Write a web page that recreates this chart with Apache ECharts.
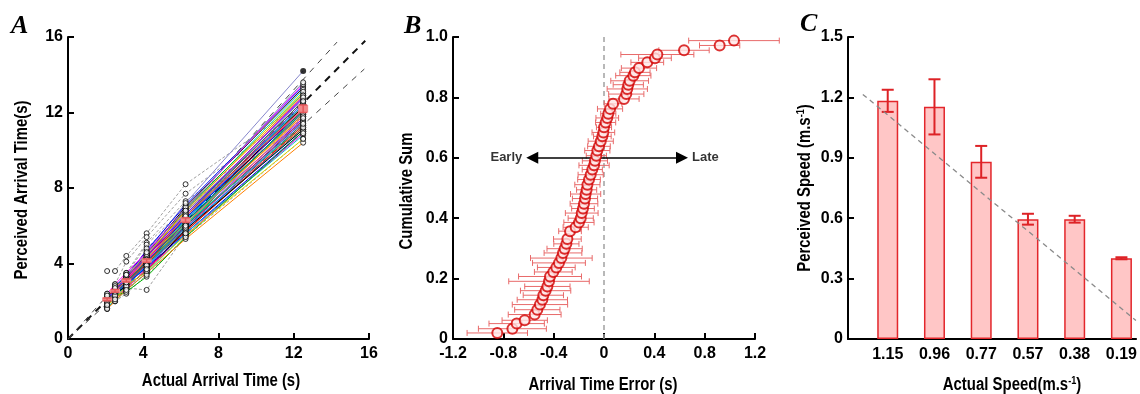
<!DOCTYPE html>
<html><head><meta charset="utf-8">
<script src="https://cdn.jsdelivr.net/npm/echarts@6/dist/echarts.min.js"></script>
<style>html,body{margin:0;padding:0;background:#fff}#c{width:1140px;height:394px}</style>
</head><body><div id="c"></div>
<script>
// ---------- Panel A data ----------
const actualTimes = [2.08, 2.5, 3.1, 4.18, 6.25, 12.5];
// coloured participant lines (perceived arrival time at each actual time)
const partA01 = [2.3, 2.7, 3.4, 4.6, 7.2, 14.2];
const colouredParticipants = [
  [2.2, 2.8, 3.3, 4.7, 7.1, 13.4],
  [2.1, 2.6, 3.2, 4.5, 7.0, 13.3],
  [2.4, 2.9, 3.5, 4.6, 6.9, 13.5],
  [2.0, 2.5, 3.1, 4.4, 6.8, 13.2],
  [2.2, 2.6, 3.2, 4.3, 6.9, 13.0],
  [2.1, 2.7, 3.3, 4.5, 6.7, 13.1],
  [2.3, 2.6, 3.2, 4.4, 6.8, 12.9],
  [1.9, 2.5, 3.0, 4.2, 6.6, 12.8],
  [2.2, 2.4, 3.1, 4.3, 6.7, 12.7],
  [2.0, 2.6, 3.2, 4.2, 6.5, 12.9],
  [2.1, 2.5, 3.0, 4.1, 6.6, 12.6],
  [2.2, 2.7, 3.1, 4.4, 6.4, 12.5],
  [1.8, 2.4, 3.0, 4.2, 6.5, 12.6],
  [2.0, 2.5, 3.1, 4.0, 6.4, 12.4],
  [2.1, 2.6, 3.2, 4.3, 6.3, 12.5],
  [2.3, 2.5, 3.0, 4.1, 6.5, 12.3],
  [1.9, 2.4, 2.9, 4.0, 6.3, 12.4],
  [2.0, 2.6, 3.1, 4.2, 6.2, 12.2],
  [2.2, 2.5, 3.0, 4.1, 6.4, 12.1],
  [1.7, 2.3, 2.9, 3.9, 6.2, 12.3],
  [2.1, 2.5, 3.2, 4.2, 6.1, 12.0],
  [2.0, 2.4, 3.0, 4.0, 6.3, 11.9],
  [1.9, 2.6, 3.1, 4.1, 6.0, 12.1],
  [2.2, 2.4, 2.9, 4.3, 6.2, 11.8],
  [1.8, 2.3, 3.0, 4.0, 6.1, 11.9],
  [2.0, 2.5, 3.1, 3.9, 6.0, 11.7],
  [2.1, 2.4, 2.8, 4.1, 6.2, 11.6],
  [1.9, 2.2, 3.0, 4.0, 5.9, 11.8],
  [2.0, 2.5, 2.9, 3.8, 6.0, 11.5],
  [1.7, 2.3, 3.0, 4.1, 5.9, 11.6],
  [2.1, 2.4, 3.1, 4.0, 5.8, 11.4],
  [1.8, 2.2, 2.8, 3.9, 6.1, 11.3],
  [2.0, 2.4, 3.0, 3.8, 5.8, 11.5],
  [1.9, 2.3, 2.9, 4.0, 5.7, 11.2],
  [2.2, 2.5, 2.8, 3.9, 5.9, 11.1],
  [1.6, 2.1, 2.7, 3.7, 5.7, 11.3],
  [2.0, 2.3, 2.9, 3.8, 5.6, 11.0],
  [1.8, 2.4, 2.8, 3.6, 5.8, 11.1],
  [1.9, 2.2, 2.7, 3.7, 5.5, 10.9],
  [1.7, 2.0, 2.6, 3.5, 5.6, 10.8],
  [2.0, 2.3, 2.5, 3.3, 5.4, 11.0],
  [1.8, 2.1, 2.8, 3.6, 5.5, 10.6],
  [1.6, 2.0, 2.6, 3.5, 5.3, 10.4],
  [2.1, 2.6, 3.3, 4.4, 6.6, 12.8],
  [2.3, 2.8, 3.4, 4.5, 6.9, 13.6],
  [1.9, 2.5, 3.1, 4.2, 6.5, 12.2],
  [2.0, 2.4, 3.0, 4.1, 6.2, 12.0]
];
// grey dashed participant lines
const greyParticipants = [
  [3.6, 3.6, 4.4, 5.6, 8.2, 12.6],
  [2.2, 2.9, 4.1, 5.4, 7.7, 12.3],
  [2.0, 2.6, 3.5, 5.1, 7.3, 11.8],
  [2.4, 2.8, 3.4, 5.0, 7.0, 11.5],
  [1.7, 2.3, 2.7, 2.6, 5.5, 11.0],
  [1.6, 2.0, 2.4, 3.4, 5.4, 10.6],
  [1.9, 2.2, 2.5, 3.6, 5.6, 10.9],
  [2.0, 2.3, 2.8, 3.9, 5.9, 11.2],
  [1.8, 2.1, 2.6, 3.7, 6.0, 11.4],
  [2.1, 2.5, 3.0, 4.8, 6.8, 11.7]
];
const meanA = [2.1, 2.55, 3.1, 4.15, 6.3, 12.2];
const semA = [0.07, 0.07, 0.08, 0.09, 0.12, 0.2];
// reference lines: y = x, y = 1.1x, y = 0.9x
const identityLine = [[0, 0], [15.8, 15.8]];
const upperLine = [[0, 0], [14.3, 15.73]];
const lowerLine = [[0, 0], [15.75, 14.3]];

// ---------- Panel B data ----------
const errorMean = [-0.848,-0.728,-0.694,-0.630,-0.551,-0.530,-0.509,-0.490,-0.482,-0.464,-0.450,-0.437,-0.429,-0.403,-0.379,-0.358,-0.339,-0.326,-0.313,-0.299,-0.291,-0.270,-0.225,-0.199,-0.185,-0.177,-0.167,-0.159,-0.151,-0.146,-0.138,-0.132,-0.119,-0.106,-0.093,-0.079,-0.072,-0.061,-0.053,-0.040,-0.026,-0.013,-0.005,0.000,0.013,0.026,0.034,0.048,0.072,0.159,0.177,0.185,0.193,0.204,0.233,0.246,0.278,0.344,0.405,0.424,0.636,0.919,1.033];
const cumSum = [0.020,0.034,0.051,0.062,0.081,0.097,0.114,0.130,0.145,0.160,0.174,0.191,0.207,0.222,0.237,0.252,0.268,0.285,0.299,0.315,0.331,0.357,0.370,0.386,0.400,0.417,0.432,0.448,0.465,0.480,0.494,0.511,0.528,0.544,0.561,0.575,0.590,0.607,0.624,0.638,0.655,0.671,0.684,0.701,0.717,0.732,0.746,0.762,0.779,0.795,0.811,0.828,0.842,0.855,0.872,0.883,0.897,0.916,0.930,0.942,0.956,0.972,0.988];
const errorHalf = [0.24,0.27,0.22,0.18,0.21,0.18,0.22,0.20,0.16,0.20,0.18,0.32,0.25,0.15,0.15,0.21,0.245,0.15,0.14,0.10,0.11,0.09,0.10,0.12,0.10,0.13,0.09,0.11,0.10,0.12,0.08,0.10,0.09,0.10,0.08,0.12,0.10,0.08,0.10,0.09,0.10,0.07,0.09,0.06,0.08,0.09,0.06,0.10,0.07,0.12,0.14,0.16,0.12,0.15,0.14,0.12,0.14,0.13,0.13,0.29,0.20,0.16,0.36];
const arrowSpan = [-0.57, 0.62];
const arrowLevel = 0.6;
const arrowTexts = ['Early', 'Late'];

// ---------- Panel C data ----------
const speedLabels = ['1.15', '0.96', '0.77', '0.57', '0.38', '0.19'];
const speedPos = [1, 2, 3, 4, 5, 6];
const perceivedSpeed = [1.183, 1.153, 0.880, 0.595, 0.595, 0.401];
const perceivedErr = [0.055, 0.137, 0.079, 0.027, 0.017, 0.005];
const fitLine = [[0.467, 1.215], [6.31, 0.092]];

// ---------- axis titles ----------
const titlesText = {
  ax: 'Actual Arrival Time (s)', ay: 'Perceived Arrival Time(s)',
  bx: 'Arrival Time Error (s)', by: 'Cumulative Sum',
  cx: 'Actual Speed(m.s{sup|-1})', cy: 'Perceived Speed (m.s{sup|-1})'
};

// ---------- styling ----------
const SANS = '"Liberation Sans", Arial, Helvetica, sans-serif';
const TICKFONT = {fontFamily: SANS, fontWeight: 'bold', fontSize: 16, color: '#000'};
const palette = ['#ff0000','#0000ff','#000000','#ff00ff','#00c8c8','#00b000','#d8d800','#ff8000','#8000ff','#8080c0','#ff5080','#008080','#c00060','#505050','#00e080','#5060ff','#a05000','#00a0ff'];

function axisBase(extra) {
  return Object.assign({
    axisLine: {show: true, onZero: false, lineStyle: {color: '#000', width: 2}},
    axisTick: {show: true, inside: true, length: 6, lineStyle: {color: '#000', width: 2}},
    splitLine: {show: false}
  }, extra);
}
const oneDec = v => (Math.abs(v) < 1e-9 ? '0' : v.toFixed(1));

const series = [];
// Panel A reference lines
series.push({type: 'line', xAxisIndex: 0, yAxisIndex: 0, data: identityLine, symbol: 'none', silent: true, z: 1,
  lineStyle: {color: '#111', width: 2, type: [7, 6]}});
series.push({type: 'line', xAxisIndex: 0, yAxisIndex: 0, data: upperLine, symbol: 'none', silent: true, z: 1,
  lineStyle: {color: '#444', width: 1, type: [6, 6]}});
series.push({type: 'line', xAxisIndex: 0, yAxisIndex: 0, data: lowerLine, symbol: 'none', silent: true, z: 1,
  lineStyle: {color: '#444', width: 1, type: [6, 6]}});
greyParticipants.forEach(p => series.push({type: 'line', xAxisIndex: 0, yAxisIndex: 0, symbol: 'none', silent: true, z: 2,
  data: actualTimes.map((x, i) => [x, p[i]]), lineStyle: {color: '#a0a0a0', width: 1, type: [3, 2]}}));
const allColoured = [partA01].concat(colouredParticipants);
allColoured.forEach((p, k) => series.push({type: 'line', xAxisIndex: 0, yAxisIndex: 0, symbol: 'none', silent: true, z: 3,
  data: actualTimes.map((x, i) => [x, p[i]]), lineStyle: {color: k === 0 ? '#8888cc' : palette[k % palette.length], width: 1}}));
const ptsA = [];
allColoured.slice(1).concat(greyParticipants).forEach(p => actualTimes.forEach((x, i) => ptsA.push([x, p[i]])));
partA01.slice(0, 5).forEach((v, i) => ptsA.push([actualTimes[i], v]));
series.push({type: 'scatter', xAxisIndex: 0, yAxisIndex: 0, data: ptsA, symbol: 'circle', symbolSize: 5, silent: true, z: 5,
  itemStyle: {color: '#fff', borderColor: '#000', borderWidth: 1}});
series.push({type: 'scatter', xAxisIndex: 0, yAxisIndex: 0, data: [[actualTimes[5], partA01[5]]], symbol: 'circle', symbolSize: 6, silent: true, z: 6,
  itemStyle: {color: '#000'}});
// mean +- error (vertical)
series.push({type: 'custom', xAxisIndex: 0, yAxisIndex: 0, z: 7, silent: true,
  data: actualTimes.map((x, i) => [x, meanA[i], semA[i]]),
  renderItem: function (params, api) {
    const x = api.value(0), y = api.value(1), e = api.value(2);
    const t = api.coord([x, y + e]), b = api.coord([x, y - e]), m = api.coord([x, y]);
    const st = {stroke: '#e5575a', lineWidth: 1.5};
    const h = Math.max(b[1] - t[1], 4);
    return {type: 'group', children: [
      {type: 'rect', shape: {x: m[0] - 5, y: m[1] - h / 2, width: 10, height: h}, style: {fill: '#f28a8a'}},
      {type: 'line', shape: {x1: t[0], y1: t[1], x2: b[0], y2: b[1]}, style: st},
      {type: 'line', shape: {x1: t[0] - 4, y1: t[1], x2: t[0] + 4, y2: t[1]}, style: st},
      {type: 'line', shape: {x1: b[0] - 4, y1: b[1], x2: b[0] + 4, y2: b[1]}, style: st}
    ]};
  }});

// Panel B
series.push({type: 'line', xAxisIndex: 1, yAxisIndex: 1, data: [[0, 0], [0, 1]], symbol: 'none', silent: true, z: 1,
  lineStyle: {color: '#a0a0a0', width: 1.5, type: [5, 4]}});
series.push({type: 'custom', xAxisIndex: 1, yAxisIndex: 1, z: 3, silent: true, clip: false,
  data: errorMean.map((x, i) => [x, cumSum[i], errorHalf[i]]),
  renderItem: function (params, api) {
    const x = api.value(0), y = api.value(1), e = api.value(2);
    const l = api.coord([x - e, y]), r = api.coord([x + e, y]);
    const st = {stroke: '#e86a6a', lineWidth: 1};
    return {type: 'group', children: [
      {type: 'line', shape: {x1: l[0], y1: l[1], x2: r[0], y2: r[1]}, style: st},
      {type: 'line', shape: {x1: l[0], y1: l[1] - 3, x2: l[0], y2: l[1] + 3}, style: st},
      {type: 'line', shape: {x1: r[0], y1: r[1] - 3, x2: r[0], y2: r[1] + 3}, style: st}
    ]};
  }});
series.push({type: 'scatter', xAxisIndex: 1, yAxisIndex: 1, z: 5, silent: true, symbol: 'circle', symbolSize: 10,
  data: errorMean.map((x, i) => [x, cumSum[i]]),
  itemStyle: {color: '#ffe6e6', borderColor: '#d20000', borderWidth: 2}});
series.push({type: 'line', xAxisIndex: 1, yAxisIndex: 1, data: [], z: 4, silent: true,
  markLine: {silent: true, symbol: ['triangle', 'triangle'], symbolSize: 12, animation: false,
    lineStyle: {color: '#000', width: 1.5, type: 'solid'}, label: {show: false},
    data: [[{coord: [arrowSpan[0], arrowLevel]}, {coord: [arrowSpan[1], arrowLevel]}]]}});
series.push({type: 'scatter', xAxisIndex: 1, yAxisIndex: 1, z: 4, silent: true, symbolSize: 0,
  data: [
    {value: [arrowSpan[0], arrowLevel], name: arrowTexts[0], label: {position: 'left'}},
    {value: [arrowSpan[1], arrowLevel], name: arrowTexts[1], label: {position: 'right'}}
  ],
  label: {show: true, formatter: p => p.name, fontFamily: SANS, fontWeight: 'bold', fontSize: 13, color: '#000', distance: 10}});

// Panel C
series.push({type: 'bar', xAxisIndex: 2, yAxisIndex: 2, z: 2, silent: true, barWidth: 21,
  data: speedPos.map((x, i) => [x, perceivedSpeed[i]]),
  itemStyle: {color: '#ffc6c6', borderColor: '#e3262b', borderWidth: 1.5}});
series.push({type: 'custom', xAxisIndex: 2, yAxisIndex: 2, z: 4, silent: true,
  data: speedPos.map((x, i) => [x, perceivedSpeed[i], perceivedErr[i]]),
  renderItem: function (params, api) {
    const x = api.value(0), y = api.value(1), e = api.value(2);
    const t = api.coord([x, y + e]), b = api.coord([x, y - e]);
    const st = {stroke: '#dd2226', lineWidth: 2};
    return {type: 'group', children: [
      {type: 'line', shape: {x1: t[0], y1: t[1], x2: b[0], y2: b[1]}, style: st},
      {type: 'line', shape: {x1: t[0] - 6, y1: t[1], x2: t[0] + 6, y2: t[1]}, style: st},
      {type: 'line', shape: {x1: b[0] - 6, y1: b[1], x2: b[0] + 6, y2: b[1]}, style: st}
    ]};
  }});
series.push({type: 'line', xAxisIndex: 2, yAxisIndex: 2, data: fitLine, symbol: 'none', silent: true, z: 5,
  lineStyle: {color: '#8a8a8a', width: 1.3, type: [5, 4]}});

// condensed bold axis titles
const SUP = {sup: {font: 'bold 11px ' + SANS, verticalAlign: 'top', padding: [0, 0, 9, 0]}};
function title(text, cx, cy, rotated) {
  return {type: 'text', x: cx, y: cy, rotation: rotated ? Math.PI / 2 : 0, scaleX: 0.83, silent: true,
    style: {text: text, x: 0, y: 0, align: 'center', verticalAlign: 'middle', font: 'bold 18px ' + SANS, fill: '#000', rich: SUP}};
}

const chart = echarts.init(document.getElementById('c'), null, {renderer: 'canvas'});
chart.setOption({
  animation: false,
  backgroundColor: '#fff',
  grid: [
    {left: 68, top: 37, width: 301, height: 302},
    {left: 453, top: 37, width: 302, height: 302},
    {left: 848, top: 37, right: 0, height: 302}
  ],
  xAxis: [
    axisBase({gridIndex: 0, type: 'value', min: 0, max: 16, interval: 4,
      axisLabel: Object.assign({margin: 7}, TICKFONT)}),
    axisBase({gridIndex: 1, type: 'value', min: -1.2, max: 1.2, interval: 0.4,
      axisLabel: Object.assign({margin: 7, formatter: oneDec}, TICKFONT)}),
    axisBase({gridIndex: 2, type: 'value', min: 0.15, max: 6.313,
      axisTick: {show: false},
      axisLabel: Object.assign({margin: 8, customValues: speedPos, formatter: v => speedLabels[Math.round(v) - 1]}, TICKFONT)})
  ],
  yAxis: [
    axisBase({gridIndex: 0, type: 'value', min: 0, max: 16, interval: 4,
      axisLabel: Object.assign({margin: 5}, TICKFONT)}),
    axisBase({gridIndex: 1, type: 'value', min: 0, max: 1, interval: 0.2,
      axisLabel: Object.assign({margin: 5, formatter: oneDec}, TICKFONT)}),
    axisBase({gridIndex: 2, type: 'value', min: 0, max: 1.5, interval: 0.3,
      axisLabel: Object.assign({margin: 5, formatter: oneDec}, TICKFONT)})
  ],
  graphic: [
    {type: 'text', left: 11, top: 13, style: {text: 'A', font: 'italic bold 26px "Liberation Serif", serif', fill: '#000'}},
    {type: 'text', left: 404, top: 13, style: {text: 'B', font: 'italic bold 26px "Liberation Serif", serif', fill: '#000'}},
    {type: 'text', left: 800, top: 11, style: {text: 'C', font: 'italic bold 26px "Liberation Serif", serif', fill: '#000'}},
    title(titlesText.ax, 221, 381, false),
    title(titlesText.ay, 22, 190, true),
    title(titlesText.bx, 603, 385, false),
    title(titlesText.by, 407, 191, true),
    title(titlesText.cx, 1012, 385, false),
    title(titlesText.cy, 805, 188, true)
  ],
  series: series
});
</script>
</body></html>
